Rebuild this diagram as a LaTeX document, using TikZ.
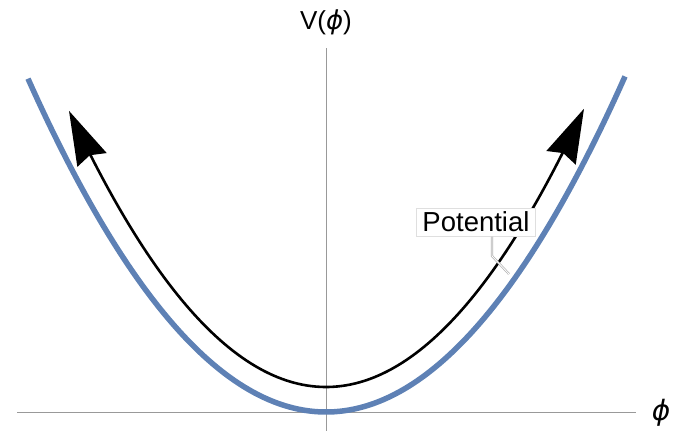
\documentclass[tikz,border=0pt]{standalone}
\usepackage{fontspec}
\setmainfont{Liberation Sans}
\newfontfamily\dvsans{DejaVu Sans}
\usetikzlibrary{arrows.meta}
\definecolor{mblue}{HTML}{5E81B5}
\newcommand{\phisym}{{\dvsans\itshape ϕ}}
\tikzset{
  axisline/.style={draw=gray!80, line width=0.9pt},
  potcurve/.style={draw=mblue, line width=5.5pt},
  flowcurve/.style={draw=black, line width=2.6pt, {Stealth[length=54pt,width=32pt,inset=5pt]}-{Stealth[length=54pt,width=32pt,inset=5pt]}},
  lbl/.style={font=\fontsize{26}{30}\selectfont, inner sep=0pt},
  xlbl/.style={font=\fontsize{28}{32}\selectfont, inner sep=0pt},
  callout/.style={fill=white, font=\fontsize{27.5}{31}\selectfont, inner xsep=6pt, inner ysep=4pt, draw=gray!25, line width=0.8pt}
}
\begin{document}
\begin{tikzpicture}[x=1pt,y=-1pt]
\useasboundingbox (0,0) rectangle (683,431);
% axes
\coordinate (xl) at (17,412);
\coordinate (xr) at (636,412);
\coordinate (yt) at (326,48);
\coordinate (yb) at (326,431);
\draw[axisline] (xl) -- (xr);
\draw[axisline] (yt) -- (yb);
\node[lbl] (ylab) at (326,22) {V(\phisym)};
\node[xlbl] (xlab) at (661,413) {\phisym};
% potential curve
\draw[potcurve] plot[domain=28:625, samples=120] (\x, {412 - 0.003761*(\x-326)*(\x-326)});
% flow curve with arrows
\draw[flowcurve] plot[domain=69:584, samples=120] (\x, {387 - 0.00418*(\x-326)*(\x-326)});
% callout
\node[callout] (pot) at (476,222) {Potential};
\coordinate (bend) at (492,256);
\coordinate (tip) at (509,274);
\draw[gray!60, line width=2.2pt] (pot.south -| bend) -- (bend) -- (tip);
\draw[white, line width=0.8pt] (pot.south -| bend) -- (bend) -- (tip);
\end{tikzpicture}
\end{document}
